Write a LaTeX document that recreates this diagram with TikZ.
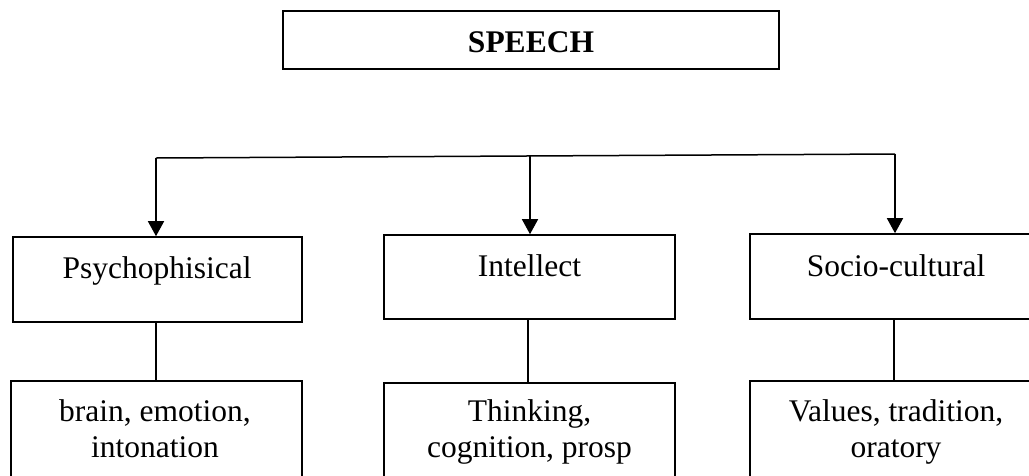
\documentclass[tikz,border=0pt]{standalone}
\usepackage{fontspec}
\setmainfont{Liberation Serif}
\usetikzlibrary{arrows.meta}

\tikzset{
  box/.style={draw=black, line width=1.6pt, rectangle, inner sep=0pt, fill=white},
  label/.style={inner sep=0pt, anchor=base, font=\fontsize{31.5}{36.5}\selectfont, align=center},
  title/.style={inner sep=0pt, anchor=base, font=\fontsize{31.5}{36.5}\selectfont\bfseries},
  link/.style={draw=black, line width=1.5pt},
  arrow/.style={link, -{Triangle[width=16pt,length=15pt]}}
}

\begin{document}
\begin{tikzpicture}[x=1pt, y=-1pt]
  \clip (0,0) rectangle (1029,475);
  \fill[white] (0,0) rectangle (1029,475);

  % title box
  \node[box, minimum width=496pt, minimum height=58pt] (speech) at (531,40) {};
  \node[title] (speechtxt) at (531,52) {SPEECH};

  % second level
  \node[box, minimum width=289pt, minimum height=85pt] (psy) at (157.5,279.5) {};
  \node[box, minimum width=291pt, minimum height=84pt] (int) at (529.5,277) {};
  \node[box, minimum width=292pt, minimum height=85pt] (soc) at (896,276.5) {};
  \node[label] (psytxt) at (157,278) {Psychophisical};
  \node[label] (inttxt) at (529.5,276) {Intellect};
  \node[label] (soctxt) at (896,276) {Socio-cultural};

  % third level (multi-line labels sit on the baseline of their last line)
  \node[box, minimum width=291pt, minimum height=140pt] (psyb) at (156.5,451) {};
  \node[box, minimum width=291pt, minimum height=140pt] (intb) at (529.5,453) {};
  \node[box, minimum width=292pt, minimum height=140pt] (socb) at (896,451) {};
  \node[label] (psybtxt) at (155,457.5) {brain, emotion,\\intonation};
  \node[label] (intbtxt) at (529.5,457.5) {Thinking,\\cognition, prosp};
  \node[label] (socbtxt) at (896,457.5) {Values, tradition,\\oratory};

  % distribution bar with arrows
  \coordinate (hl) at (156,158);
  \coordinate (hm) at (530,156);
  \coordinate (hr) at (895,154);
  \draw[link] (hl) -- (hr);
  \draw[arrow] (hl) -- (hl |- psy.north);
  \draw[arrow] (hm) -- (hm |- int.north);
  \draw[arrow] (hr) -- (hr |- soc.north);

  % vertical links to the detail boxes
  \draw[link] (psy.south -| 156,0) -- (psyb.north -| 156,0);
  \draw[link] (int.south -| 528,0) -- (intb.north -| 528,0);
  \draw[link] (soc.south -| 894,0) -- (socb.north -| 894,0);
\end{tikzpicture}
\end{document}
